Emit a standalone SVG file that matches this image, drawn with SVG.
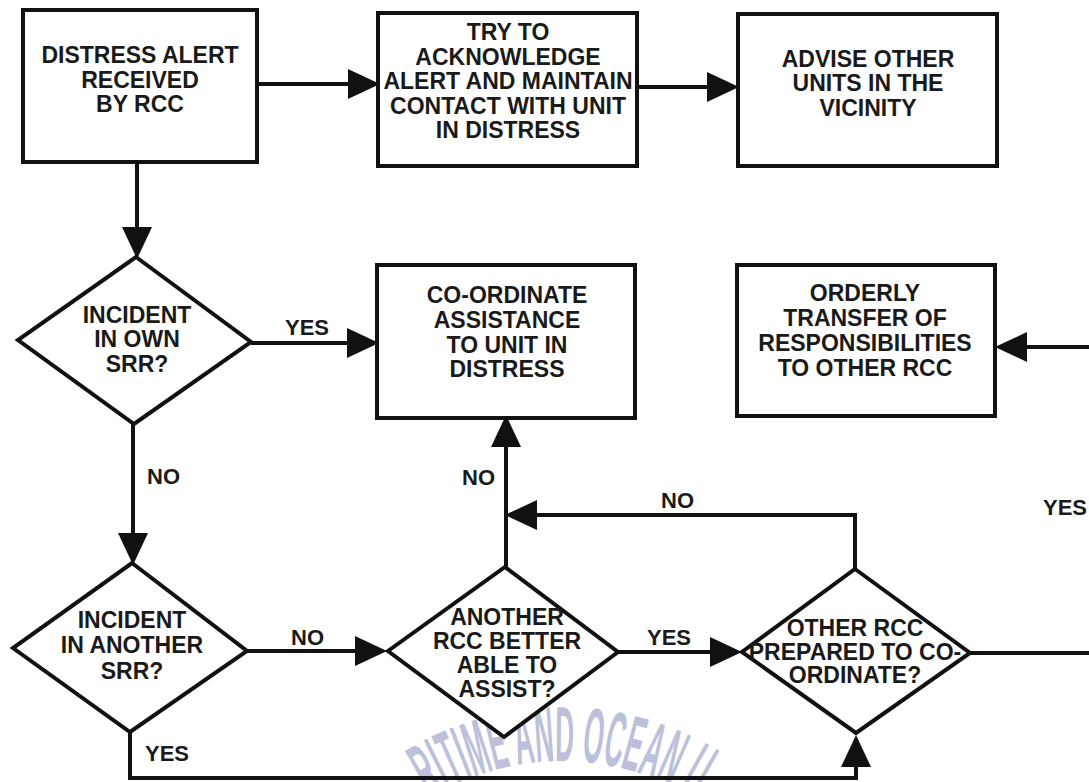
<svg xmlns="http://www.w3.org/2000/svg" width="1089" height="782" viewBox="0 0 1089 782">
  <style>
    .box { fill: #ffffff; stroke: #111111; stroke-width: 4; }
    .dia { fill: #ffffff; stroke: #111111; stroke-width: 4; stroke-linejoin: miter; }
    .lbl { font-family: "Liberation Sans", Arial, sans-serif; font-weight: bold; font-size: 23px; fill: #1a1a1a; text-anchor: middle; }
    .tag { font-family: "Liberation Sans", Arial, sans-serif; font-weight: bold; font-size: 22px; fill: #1a1a1a; }
    .wire { fill: none; stroke: #111111; stroke-width: 4; stroke-linejoin: miter; }
    .wm { font-family: "Liberation Sans", Arial, sans-serif; font-weight: bold; font-size: 78px; fill: #bcc0da; }
  </style>
  <defs>
    <!-- solid triangular arrowhead; its base sits on the end of the line -->
    <marker id="head" markerUnits="userSpaceOnUse" markerWidth="32" markerHeight="30" viewBox="0 0 32 30" refX="0" refY="15" orient="auto">
      <path d="M0,0 L32,15 L0,30 Z" fill="#111111"/>
    </marker>
    <path id="wmArc" d="M343.8,887 A252,252 0 0,1 780.2,887"/>
  </defs>

  <rect width="1089" height="782" fill="#ffffff"/>

  <!-- faint watermark behind the chart -->
  <text class="wm"><textPath href="#wmArc" startOffset="50%" text-anchor="middle" textLength="278" lengthAdjust="spacingAndGlyphs">RITIME AND OCEAN U</textPath></text>

  <g id="connectors">
    <!-- alert -> acknowledge -->
    <path class="wire" d="M257,84 H348" marker-end="url(#head)"/>
    <!-- acknowledge -> advise -->
    <path class="wire" d="M637,87 H707" marker-end="url(#head)"/>
    <!-- alert -> own SRR? -->
    <path class="wire" d="M137,162 V227" marker-end="url(#head)"/>
    <!-- own SRR? yes -> co-ordinate -->
    <path class="wire" d="M251,343 H347" marker-end="url(#head)"/>
    <text class="tag" x="285" y="335">YES</text>
    <!-- own SRR? no -> another SRR? -->
    <path class="wire" d="M133,424 V533" marker-end="url(#head)"/>
    <text class="tag" x="147" y="484">NO</text>
    <!-- another SRR? no -> better able -->
    <path class="wire" d="M247,651 H355" marker-end="url(#head)"/>
    <text class="tag" x="291" y="645">NO</text>
    <!-- better able? yes -> prepared -->
    <path class="wire" d="M618,652 H710" marker-end="url(#head)"/>
    <text class="tag" x="647" y="645">YES</text>
    <!-- better able? no -> co-ordinate -->
    <path class="wire" d="M506,567 V447" marker-end="url(#head)"/>
    <text class="tag" x="462" y="485">NO</text>
    <!-- prepared? no -> back to the vertical -->
    <path class="wire" d="M855,569 V515 H537" marker-end="url(#head)"/>
    <text class="tag" x="661" y="508">NO</text>
    <!-- another SRR? yes -> prepared -->
    <path class="wire" d="M130,732 V778 H856 V767" marker-end="url(#head)"/>
    <text class="tag" x="145" y="761">YES</text>
    <!-- prepared? yes -> off to the right, returning to transfer -->
    <path class="wire" d="M970,653 H1095"/>
    <path class="wire" d="M1095,347 H1027" marker-end="url(#head)"/>
    <text class="tag" x="1043" y="515">YES</text>
  </g>

  <g id="n-alert">
    <rect class="box" x="23" y="10" width="234" height="152"/>
    <text class="lbl" x="140" y="63">DISTRESS ALERT</text>
    <text class="lbl" x="140" y="88">RECEIVED</text>
    <text class="lbl" x="140" y="112">BY RCC</text>
  </g>

  <g id="n-acknowledge">
    <rect class="box" x="378" y="13" width="259" height="153"/>
    <text class="lbl" x="508" y="40">TRY TO</text>
    <text class="lbl" x="508" y="64.5">ACKNOWLEDGE</text>
    <text class="lbl" x="508" y="89">ALERT AND MAINTAIN</text>
    <text class="lbl" x="508" y="113.5">CONTACT WITH UNIT</text>
    <text class="lbl" x="508" y="138">IN DISTRESS</text>
  </g>

  <g id="n-advise">
    <rect class="box" x="738" y="14" width="259" height="152"/>
    <text class="lbl" x="868" y="67">ADVISE OTHER</text>
    <text class="lbl" x="868" y="91">UNITS IN THE</text>
    <text class="lbl" x="868" y="116">VICINITY</text>
  </g>

  <g id="n-coordinate">
    <rect class="box" x="377" y="265" width="258" height="153"/>
    <text class="lbl" x="507" y="303">CO-ORDINATE</text>
    <text class="lbl" x="507" y="328">ASSISTANCE</text>
    <text class="lbl" x="507" y="353">TO UNIT IN</text>
    <text class="lbl" x="507" y="377">DISTRESS</text>
  </g>

  <g id="n-transfer">
    <rect class="box" x="737" y="265" width="258" height="151"/>
    <text class="lbl" x="865" y="301">ORDERLY</text>
    <text class="lbl" x="865" y="326">TRANSFER OF</text>
    <text class="lbl" x="865" y="351">RESPONSIBILITIES</text>
    <text class="lbl" x="865" y="376">TO OTHER RCC</text>
  </g>

  <g id="d-own-srr">
    <polygon class="dia" points="136,257 251,342 134,424 18,340"/>
    <text class="lbl" x="137" y="323">INCIDENT</text>
    <text class="lbl" x="137" y="347">IN OWN</text>
    <text class="lbl" x="137" y="372">SRR?</text>
  </g>

  <g id="d-another-srr">
    <polygon class="dia" points="132,563 247,651 130,732 13,648"/>
    <text class="lbl" x="132" y="628">INCIDENT</text>
    <text class="lbl" x="132" y="653">IN ANOTHER</text>
    <text class="lbl" x="132" y="679">SRR?</text>
  </g>

  <g id="d-better-able">
    <polygon class="dia" points="505,567 618,652 504,737 388,651"/>
    <text class="lbl" x="507" y="625">ANOTHER</text>
    <text class="lbl" x="507" y="649">RCC BETTER</text>
    <text class="lbl" x="507" y="673">ABLE TO</text>
    <text class="lbl" x="507" y="697">ASSIST?</text>
  </g>

  <g id="d-prepared">
    <polygon class="dia" points="855,569 970,653 856,733 742,652"/>
    <text class="lbl" x="855" y="636">OTHER RCC</text>
    <text class="lbl" x="855" y="660">PREPARED TO CO-</text>
    <text class="lbl" x="855" y="683">ORDINATE?</text>
  </g>
</svg>
